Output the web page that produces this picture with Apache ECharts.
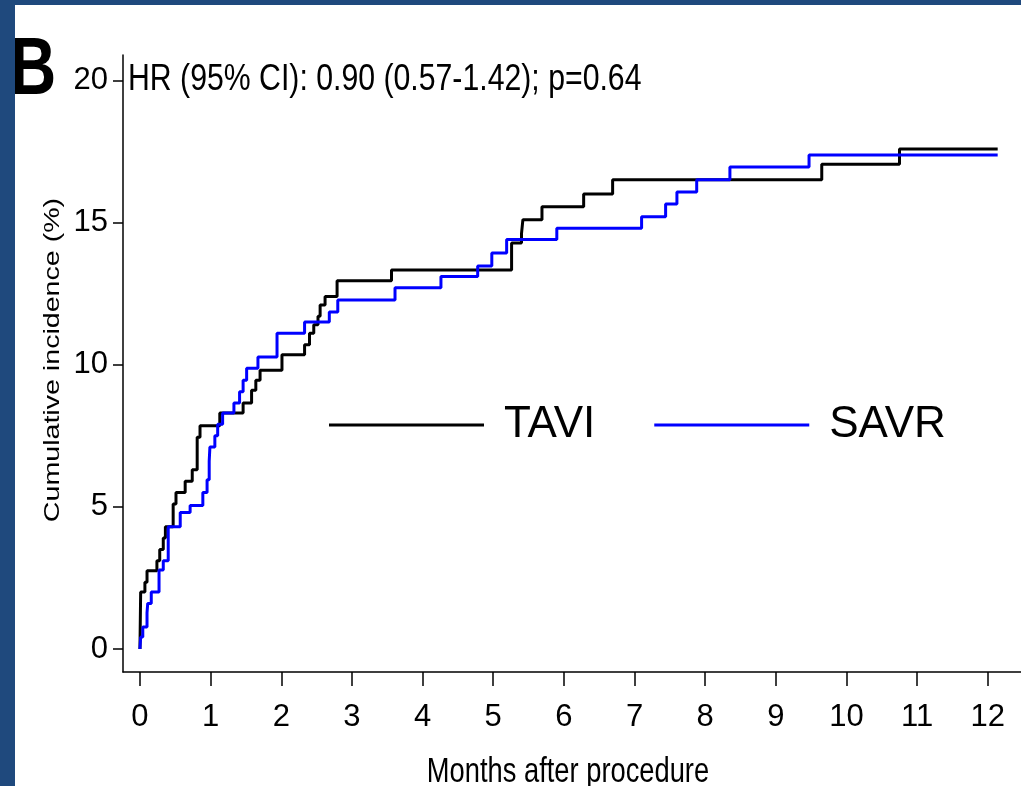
<!DOCTYPE html>
<html>
<head>
<meta charset="utf-8">
<title>Cumulative incidence: TAVI vs SAVR</title>
<script src="https://cdn.jsdelivr.net/npm/echarts@6/dist/echarts.min.js"></script>
<style>
  html, body { margin: 0; padding: 0; background: #ffffff; }
  #wrap { position: relative; width: 1021px; height: 786px; overflow: hidden; }
  #chart { position: absolute; left: 0; top: 0; width: 1021px; height: 786px; }
  .frame-top { position: absolute; left: 0; top: 0; width: 1021px; height: 5px; background: #1f497d; z-index: 5; }
  .frame-left { position: absolute; left: 0; top: 0; width: 15px; height: 786px; background: #1f497d; z-index: 5; }
</style>
</head>
<body>
<div id="wrap">
  <div id="chart"></div>
  <div class="frame-top"></div>
  <div class="frame-left"></div>
</div>
<script>
// Kaplan-Meier style cumulative incidence, months after procedure
var tTAVI = [0, 0.01, 0.07, 0.10, 0.24, 0.28, 0.33, 0.36, 0.47, 0.51, 0.64, 0.74, 0.81, 0.85,
             1.13, 1.46, 1.58, 1.64, 1.70, 2.01, 2.33, 2.40, 2.46, 2.52, 2.55, 2.62, 2.79,
             3.56, 5.26, 5.40, 5.42, 5.69, 6.28, 6.69, 9.65, 10.75, 12.14];
var vTAVI = [0, 2.0, 2.35, 2.75, 3.1, 3.5, 3.9, 4.3, 5.1, 5.5, 5.9, 6.3, 7.45, 7.85,
             8.3, 8.65, 9.1, 9.45, 9.8, 10.35, 10.7, 11.1, 11.4, 11.7, 12.1, 12.4, 12.95,
             13.33, 14.28, 14.6, 15.1, 15.55, 16.0, 16.5, 17.05, 17.58, 17.58];

var tSAVR = [0, 0.01, 0.04, 0.10, 0.11, 0.16, 0.27, 0.33, 0.40, 0.57, 0.71, 0.89, 0.95, 0.98,
             0.99, 1.06, 1.10, 1.17, 1.33, 1.41, 1.46, 1.51, 1.67, 1.94, 2.33, 2.68, 2.80,
             3.61, 4.26, 4.78, 4.98, 5.19, 5.90, 7.10, 7.44, 7.60, 7.88, 8.35, 9.47, 12.14];
var vSAVR = [0, 0.42, 0.77, 1.27, 1.6, 2.0, 2.78, 3.1, 4.3, 4.8, 5.05, 5.5, 5.95, 6.6,
             7.1, 7.5, 7.9, 8.3, 8.65, 9.05, 9.45, 9.87, 10.27, 11.1, 11.5, 11.85, 12.27,
             12.7, 13.1, 13.47, 13.93, 14.4, 14.8, 15.2, 15.65, 16.07, 16.5, 16.95, 17.37, 17.37];

var xTicks = [0, 1, 2, 3, 4, 5, 6, 7, 8, 9, 10, 11, 12];
var yTicks = [0, 5, 10, 15, 20];

var seriesNames = ['TAVI', 'SAVR'];
var hrText = 'HR (95% CI): 0.90 (0.57-1.42); p=0.64';

function pairs(t, v) {
  var out = [];
  for (var i = 0; i < t.length; i++) out.push([t[i], v[i]]);
  return out;
}

var sans = "'Liberation Sans', Arial, sans-serif";

var chart = echarts.init(document.getElementById('chart'), null, { renderer: 'canvas' });

chart.setOption({
  backgroundColor: '#ffffff',
  animation: false,
  legend: {
    data: seriesNames,
    left: 324, top: 398,
    icon: 'rect',
    itemWidth: 155, itemHeight: 3,
    itemGap: 59,
    textStyle: { fontFamily: sans, fontSize: 44, color: '#000000', padding: [0, 0, 0, 15] }
  },
  grid: { left: 123, right: 0, top: 55, bottom: 114, containLabel: false },
  xAxis: {
    type: 'value', min: -0.24, max: 12.47,
    splitLine: { show: false },
    axisLine: { show: true, onZero: false, lineStyle: { color: '#000000', width: 1.5 } },
    axisTick: { show: true, customValues: xTicks, length: 14, lineStyle: { color: '#000000', width: 1.5 } },
    axisLabel: { customValues: xTicks, margin: 30, fontFamily: sans, fontSize: 31, color: '#000000' }
  },
  yAxis: {
    type: 'value', min: -0.81, max: 20.89,
    splitLine: { show: false },
    axisLine: { show: true, onZero: false, lineStyle: { color: '#000000', width: 1.5 } },
    axisTick: { show: true, customValues: yTicks, length: 10, lineStyle: { color: '#000000', width: 1.5 } },
    axisLabel: { customValues: yTicks, margin: 15, fontFamily: sans, fontSize: 31, color: '#000000' }
  },
  graphic: [
    {
      // panel letter
      type: 'text', x: 10, y: 30, scaleX: 0.78,
      style: { text: 'B', fontFamily: sans, fontSize: 82, fontWeight: 'bold', fill: '#000000' }
    },
    {
      // hazard ratio annotation
      type: 'text', x: 128, y: 80, scaleX: 0.84,
      style: {
        text: hrText, fontFamily: sans, fontSize: 36, fill: '#000000',
        align: 'left', verticalAlign: 'middle'
      }
    },
    {
      type: 'text', x: 53, y: 360, rotation: Math.PI / 2, scaleX: 1.3,
      style: {
        text: 'Cumulative incidence (%)', fontFamily: sans, fontSize: 22,
        fill: '#000000', align: 'center', verticalAlign: 'middle'
      }
    },
    {
      type: 'text', x: 568, y: 772, scaleX: 0.78,
      style: {
        text: 'Months after procedure', fontFamily: sans, fontSize: 35,
        fill: '#000000', align: 'center', verticalAlign: 'middle'
      }
    }
  ],
  series: [
    {
      name: seriesNames[0], type: 'line', step: 'end', showSymbol: false,
      data: pairs(tTAVI, vTAVI), color: '#000000',
      lineStyle: { color: '#000000', width: 3 }
    },
    {
      name: seriesNames[1], type: 'line', step: 'end', showSymbol: false,
      data: pairs(tSAVR, vSAVR), color: '#0000ff',
      lineStyle: { color: '#0000ff', width: 3 }
    }
  ]
});
</script>
</body>
</html>
